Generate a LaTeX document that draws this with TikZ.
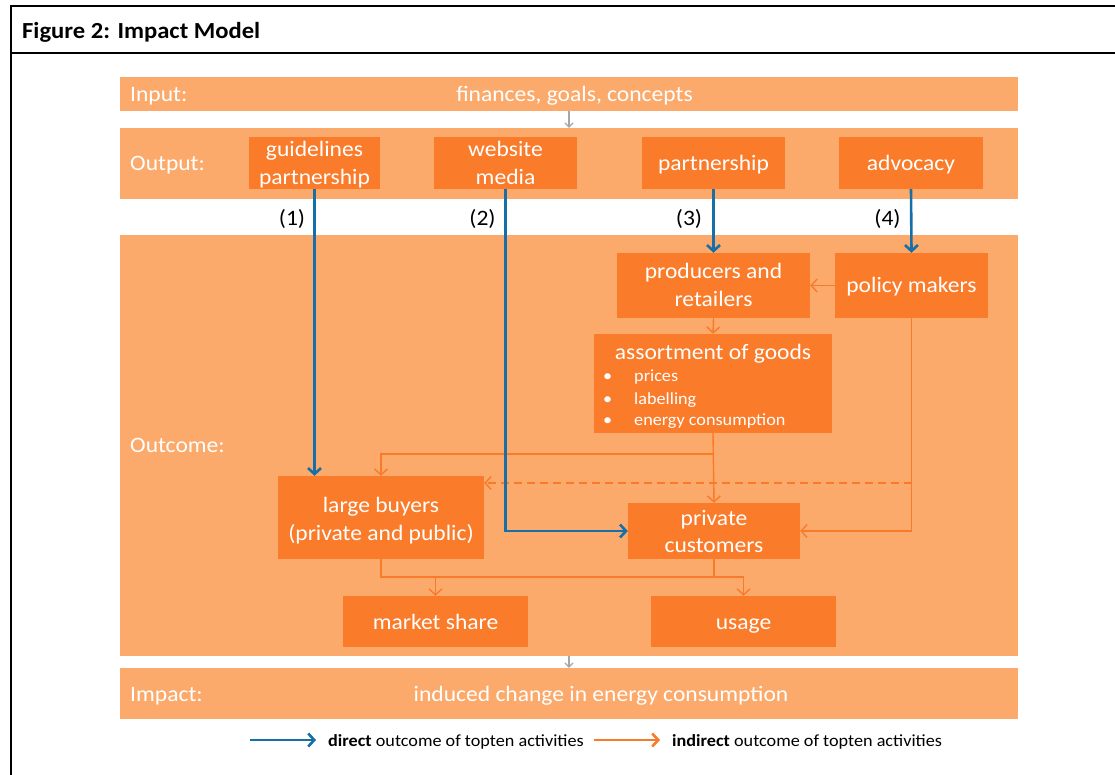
\documentclass[tikz,border=0pt]{standalone}
\usepackage{fontspec}
\setmainfont{Carlito}[FakeStretch=1.07]
\usetikzlibrary{arrows.meta}
\definecolor{bandc}{RGB}{251,170,107}
\definecolor{boxc}{RGB}{250,123,42}
\definecolor{linec}{RGB}{249,122,40}
\definecolor{bluec}{RGB}{22,111,166}
\definecolor{grayc}{RGB}{166,166,166}
\newcommand\twolines[3][13pt]{\raisebox{0pt}[0pt][#1]{\begin{tabular}[t]{@{}c@{}}#2\\#3\end{tabular}}}
\begin{document}
\begin{tikzpicture}[x=1pt,y=-1pt,
  band/.style={fill=bandc, inner sep=0pt, minimum width=898pt},
  boxbase/.style={fill=boxc, text=white, inner sep=0pt, font=\fontsize{22}{27.8}\selectfont},
  box/.style={boxbase,
    execute at begin node={\rule{0pt}{21pt}},
    execute at end node={\rule[-6pt]{0pt}{6pt}}},
  box2/.style={boxbase},
  lbl/.style={text=white, inner sep=0pt, anchor=base west, font=\fontsize{22}{28}\selectfont},
  wtxt/.style={text=white, inner sep=0pt, anchor=base, font=\fontsize{22}{28}\selectfont},
  btxt/.style={text=white, inner sep=0pt, anchor=base west, font=\fontsize{17}{21}\selectfont},
  num/.style={text=black, inner sep=0pt, anchor=base, font=\fontsize{22}{26}\selectfont},
  dir/.style={draw=bluec, line width=2.6pt, -{Straight Barb[length=6pt,width=13pt,line width=2.6pt]}},
  ind/.style={draw=linec, line width=1.4pt, -{Straight Barb[length=6pt,width=13pt,line width=1.4pt]}},
  indline/.style={draw=linec, line width=1.4pt},
  gry/.style={draw=grayc, line width=1.2pt, -{Straight Barb[length=4pt,width=8pt,line width=1.2pt]}},
  leg/.style={text=black, inner sep=0pt, anchor=base west, font=\fontsize{17}{20}\selectfont}
]
\useasboundingbox (0,0) rectangle (1115,775);
\clip (0,0) rectangle (1115,775);
\fill[white] (0,0) rectangle (1115,775);

% frame
\draw[line width=1.8pt] (11,790) -- (11,6) -- (1130,6);
\draw[line width=1.8pt] (11,53) -- (1130,53);
\node[anchor=base west, inner sep=0pt, font=\fontsize{23}{26}\selectfont\bfseries] (title) at (22,39) {Figure 2: Impact Model};

% bands
\node[band, minimum height=34pt] (inp) at (569,94) {};
\node[band, minimum height=71pt] (outp) at (569,163.5) {};
\node[band, minimum height=421pt] (outc) at (569,445.5) {};
\node[band, minimum height=51pt] (imp) at (569,693.5) {};

\node[lbl] (linp) at (130,101.5) {Input:};
\node[lbl] (loutp) at (130,170.5) {Output:};
\node[lbl] (loutc) at (130,452.5) {Outcome:};
\node[lbl] (limp) at (130,701.5) {Impact:};
\node[wtxt] (tinp) at (574.5,101.5) {finances, goals, concepts};
\node[wtxt] (timp) at (601,701.5) {induced change in energy consumption};

\draw[gry] (inp.south) -- (outp.north);
\draw[gry] (outc.south) -- (imp.north);

% output boxes
\node[box2, minimum width=131pt, minimum height=52pt] (guid) at (314.5,163) {\twolines{guidelines}{partnership}};
\node[box2, minimum width=143pt, minimum height=52pt] (web) at (505.5,163) {\twolines{website}{media}};
\node[box, minimum width=143pt, minimum height=52pt] (part) at (713.5,163) {partnership};
\node[box, minimum width=144pt, minimum height=52pt] (adv) at (911,163) {advocacy};

\node[num] (n1) at (292,225.5) {(1)};
\node[num] (n2) at (482.5,225.5) {(2)};
\node[num] (n3) at (689,225.5) {(3)};
\node[num] (n4) at (887.5,225.5) {(4)};

% outcome boxes
\node[box2, minimum width=193pt, minimum height=65pt] (prod) at (713.5,285.5) {\twolines{producers and}{retailers}};
\node[box, minimum width=153pt, minimum height=65pt] (pol) at (911.5,285.5) {policy makers};
\node[fill=boxc, inner sep=0pt, minimum width=238pt, minimum height=99pt] (assort) at (713,383.5) {};
\node[wtxt] (assortt) at (713,359) {assortment of goods};
\node[btxt] (b1) at (603,381.5) {\textbullet};
\node[btxt] (b2) at (603,404) {\textbullet};
\node[btxt] (b3) at (603,425.5) {\textbullet};
\node[btxt] (t1) at (634,381.5) {prices};
\node[btxt] (t2) at (634,404) {labelling};
\node[btxt] (t3) at (634,425.5) {energy consumption};
\node[box2, minimum width=206pt, minimum height=83pt] (lb) at (381,517.5) {\twolines[10pt]{large buyers}{(private and public)}};
\node[box2, minimum width=172pt, minimum height=56pt] (pc) at (714,531) {\twolines[12pt]{private}{customers}};
\node[box, minimum width=185pt, minimum height=51pt] (ms) at (435.5,621.5) {market share};
\node[box, minimum width=185pt, minimum height=51pt] (use) at (743.5,621.5) {usage};

% indirect connectors
\coordinate (j1) at (713,454);
\coordinate (j2) at (911.5,483);
\coordinate (j3) at (381,577);
\draw[ind] (pol.west) -- (prod.east);
\draw[ind] (prod.south) -- (assort.north);
\draw[ind] (assort.south) -- (pc.north);
\draw[ind] (j1) -| (lb.north);
\draw[ind, dash pattern=on 8pt off 5pt] (j2) -- (j2 -| lb.east);
\draw[ind] (pol.south) |- (pc.east);
\draw[ind] (lb.south) -- (j3) -| (use.north);
\draw[ind] (j3 -| ms.north) -- (ms.north);
\draw[indline] (pc.south) -- (pc.south |- j3);

% direct connectors
\draw[dir] (guid.south) -- (guid.south |- lb.north);
\draw[dir] (web.south) |- (pc.west);
\draw[dir] (part.south) -- (prod.north);
\draw[dir] (adv.south) -- (pol.north);

% legend
\coordinate (la1) at (250,740);
\coordinate (la2) at (316,740);
\coordinate (lc1) at (594,740);
\coordinate (lc2) at (660,740);
\draw[dir] (la1) -- (la2);
\draw[ind, line width=2.6pt, -{Straight Barb[length=6pt,width=13pt,line width=2.6pt]}] (lc1) -- (lc2);
\node[leg] (leg1) at (328,746) {\textbf{direct} outcome of topten activities};
\node[leg] (leg2) at (672,746) {\textbf{indirect} outcome of topten activities};
\end{tikzpicture}
\end{document}
